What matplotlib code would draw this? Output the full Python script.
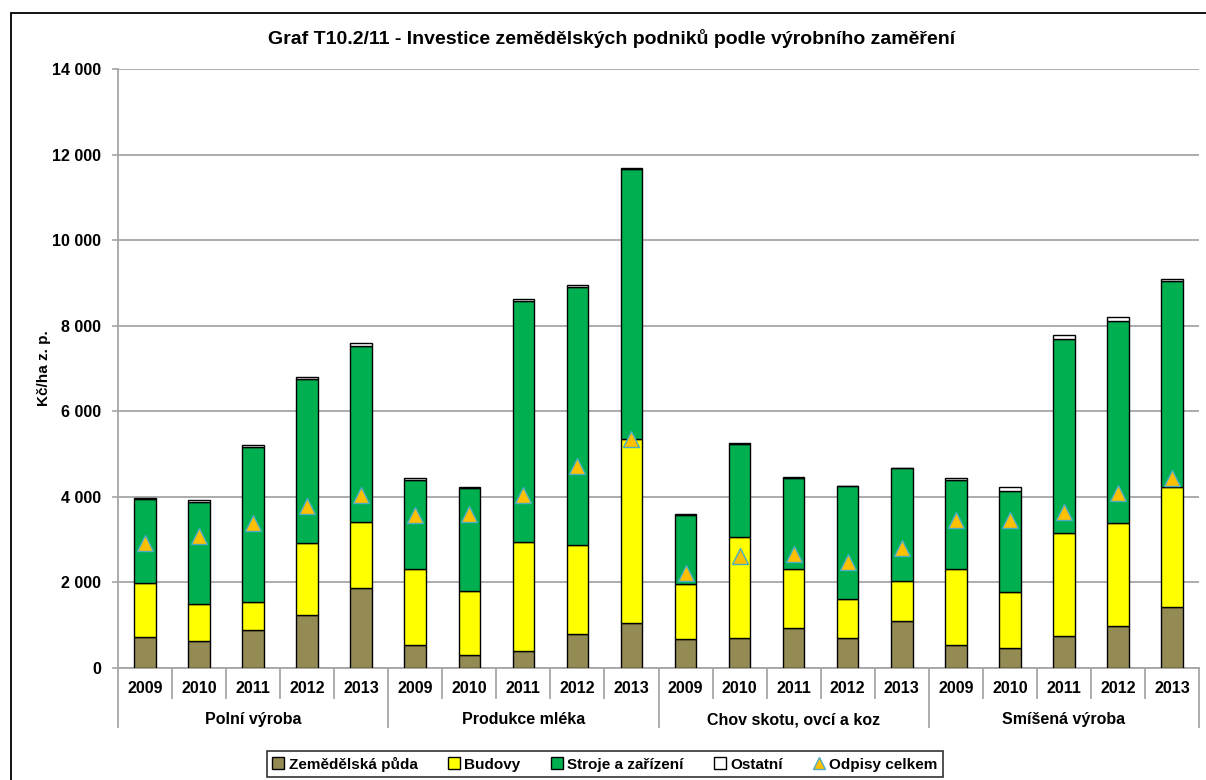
import numpy as np
import matplotlib.pyplot as plt
from matplotlib.patches import Patch, Rectangle
from matplotlib.lines import Line2D
from matplotlib.transforms import blended_transform_factory

plt.rcParams['font.family'] = ['Liberation Sans', 'DejaVu Sans']
plt.rcParams['font.weight'] = 'bold'

# výrobní zaměření a roky
groups = ['Polní výroba', 'Produkce mléka', 'Chov skotu, ovcí a koz', 'Smíšená výroba']
years = ['2009', '2010', '2011', '2012', '2013']

# Kč/ha z. p., po skupinách za sebou (5 let x 4 zaměření)
puda = [735, 635, 880, 1245, 1870,
        530, 310, 390, 785, 1050,
        680, 710, 940, 710, 1105,
        530, 470, 740, 990, 1420]
budovy = [1250, 850, 660, 1670, 1550,
          1780, 1485, 2550, 2080, 4300,
          1275, 2350, 1380, 910, 925,
          1780, 1300, 2420, 2390, 2810]
stroje = [1960, 2390, 3620, 3835, 4110,
          2080, 2410, 5645, 6045, 6315,
          1610, 2185, 2110, 2630, 2640,
          2085, 2365, 4540, 4735, 4815]
ostatni = [35, 40, 45, 60, 63,
           55, 30, 30, 40, 30,
           25, 25, 40, 15, 15,
           55, 95, 80, 85, 45]
odpisy = [2910, 3080, 3400, 3780, 4040,
          3575, 3590, 4045, 4720, 5360,
          2220, 2625, 2670, 2475, 2810,
          3470, 3455, 3650, 4095, 4430]

series = [('Zemědělská půda', puda, '#948A54'),
          ('Budovy', budovy, '#FFFF00'),
          ('Stroje a zařízení', stroje, '#00B050'),
          ('Ostatní', ostatni, '#FFFFFF')]

fig = plt.figure(figsize=(12.06, 7.8), dpi=100)
ax = fig.add_axes([118 / 1206, 1 - 668 / 780, 1081 / 1206, 599 / 780])

x = np.arange(len(puda))
bottom = np.zeros(len(puda))
for name, vals, col in series:
    vals = np.array(vals, dtype=float)
    ax.bar(x, vals, 0.4, bottom=bottom, color=col, edgecolor='black',
           linewidth=1.0, zorder=3)
    bottom += vals

ax.plot(x, odpisy, linestyle='none', marker='^', markersize=12,
        markerfacecolor='#FFC000', markeredgecolor='#4BACC6',
        markeredgewidth=1.0, zorder=4)

ax.set_xlim(-0.5, len(x) - 0.5)
ax.set_ylim(0, 14000)
ax.set_yticks(np.arange(0, 14001, 2000))
ax.set_yticklabels([f'{v:,}'.replace(',', ' ') for v in range(0, 14001, 2000)],
                   fontsize=11.5, fontweight='bold')
ax.yaxis.grid(True, color='#A6A6A6', linewidth=1.3, zorder=0)
ax.set_axisbelow(True)
ax.tick_params(axis='y', length=4, width=1.2, color='#A6A6A6', pad=8)
ax.tick_params(axis='x', length=0, labelbottom=False)
for s in ['top', 'right']:
    ax.spines[s].set_visible(False)
ax.spines['left'].set_color('#A6A6A6')
ax.spines['left'].set_linewidth(1.3)
ax.spines['bottom'].set_color('#A6A6A6')
ax.spines['bottom'].set_linewidth(1.3)

ax.set_ylabel('Kč/ha z. p.', fontsize=11, fontweight='bold', labelpad=1)

# dvouúrovňové popisky osy x
tr = blended_transform_factory(ax.transData, ax.transAxes)
for i in range(len(x)):
    ax.text(i, -0.0417, years[i % 5], transform=tr, ha='center', va='baseline',
            fontsize=11.5, fontweight='bold')
for g, name in enumerate(groups):
    ax.text(g * 5 + 2, -0.0935, name, transform=tr, ha='center', va='baseline',
            fontsize=11.5, fontweight='bold')
for k in range(len(x) + 1):
    low = -0.0985 if k % 5 == 0 else -0.05
    ax.add_line(Line2D([k - 0.5, k - 0.5], [0, low], transform=tr,
                       color='#A6A6A6', linewidth=1.3, clip_on=False))

fig.text(612 / 1206, 1 - 38 / 780,
         'Graf T10.2/11 - Investice zemědělských podniků podle výrobního zaměření',
         ha='center', va='center', fontsize=14, fontweight='bold')

handles = [Patch(facecolor=c, edgecolor='black', linewidth=1.0) for _, _, c in series]
handles.append(Line2D([], [], linestyle='none', marker='^', markersize=9,
                      markerfacecolor='#FFC000', markeredgecolor='#4BACC6'))
labels = [n for n, _, _ in series] + ['Odpisy celkem']
leg = fig.legend(handles, labels, loc='center', bbox_to_anchor=(605 / 1206, 1 - 764 / 780),
                 ncol=5, frameon=True, fancybox=False, fontsize=11,
                 handlelength=0.8, handleheight=0.8, handletextpad=0.3,
                 columnspacing=1.95, borderpad=0.35)
leg.get_frame().set_edgecolor('black')
leg.get_frame().set_linewidth(1.2)
for t in leg.get_texts():
    t.set_fontweight('bold')

fig.patches.append(Rectangle((11 / 1206, -0.05), 1.2, 1 - 13 / 780 + 0.05,
                             transform=fig.transFigure, fill=False,
                             edgecolor='black', linewidth=1.3))

fig.savefig('out.png', dpi=100)
